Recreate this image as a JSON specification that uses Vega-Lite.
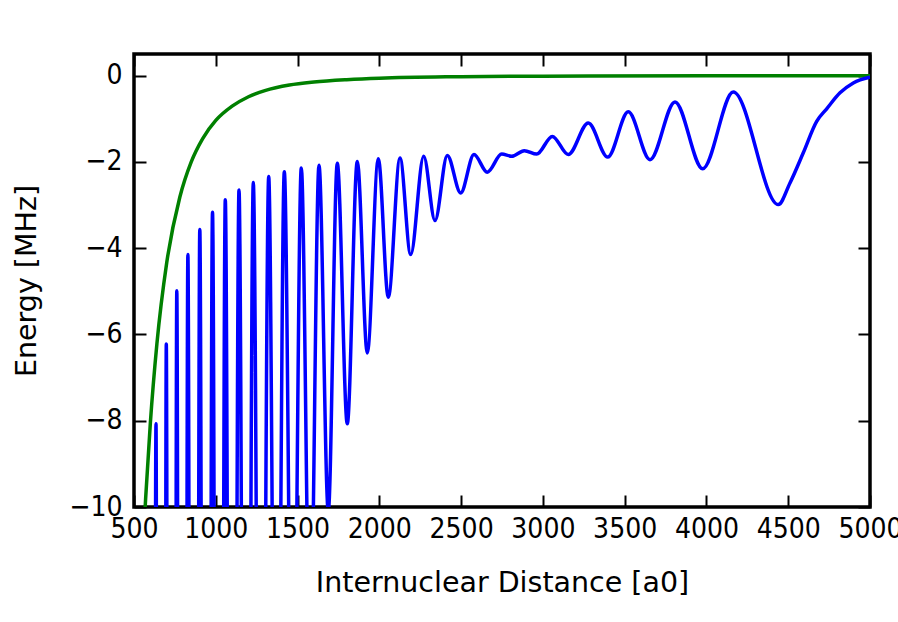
{
  "$schema": "https://vega.github.io/schema/vega-lite/v6.json",
  "width": 736,
  "height": 453,
  "autosize": "none",
  "padding": {"left": 134, "top": 54, "right": 28, "bottom": 115},
  "background": "white",
  "datasets": {
    "blue": [
      {"r": 604, "E": -200}, {"r": 634.5, "E": -8.07}, {"r": 666.3, "E": -160}, {"r": 697.5, "E": -6.22},
      {"r": 729.3, "E": -125}, {"r": 761.7, "E": -4.99}, {"r": 795.3, "E": -98}, {"r": 829.5, "E": -4.15},
      {"r": 865.9, "E": -78}, {"r": 902.3, "E": -3.57}, {"r": 941.1, "E": -62}, {"r": 980, "E": -3.17},
      {"r": 1019.1, "E": -50}, {"r": 1058.2, "E": -2.88}, {"r": 1100.1, "E": -40}, {"r": 1142, "E": -2.65},
      {"r": 1185.7, "E": -32}, {"r": 1229.4, "E": -2.48}, {"r": 1276.5, "E": -26}, {"r": 1323.6, "E": -2.34},
      {"r": 1371.3, "E": -21}, {"r": 1419, "E": -2.23}, {"r": 1470.9, "E": -17}, {"r": 1522.9, "E": -2.14},
      {"r": 1577, "E": -13.5}, {"r": 1631.1, "E": -2.08}, {"r": 1687.9, "E": -10.1}, {"r": 1743, "E": -2.03},
      {"r": 1804.1, "E": -8.07}, {"r": 1865.3, "E": -1.99}, {"r": 1926.4, "E": -6.43}, {"r": 1993.7, "E": -1.93},
      {"r": 2054.8, "E": -5.14}, {"r": 2126.3, "E": -1.91}, {"r": 2191.7, "E": -4.15}, {"r": 2271.2, "E": -1.87},
      {"r": 2340.3, "E": -3.36}, {"r": 2415.5, "E": -1.85}, {"r": 2497.4, "E": -2.72}, {"r": 2578.8, "E": -1.83},
      {"r": 2660.1, "E": -2.24}, {"r": 2748.1, "E": -1.82}, {"r": 2809.3, "E": -1.87}, {"r": 2886.3, "E": -1.74},
      {"r": 2962.1, "E": -1.82}, {"r": 3057.5, "E": -1.41}, {"r": 3155.3, "E": -1.83}, {"r": 3277.6, "E": -1.1},
      {"r": 3396.2, "E": -1.89}, {"r": 3522.2, "E": -0.84}, {"r": 3654.8, "E": -1.95}, {"r": 3807.7, "E": -0.61},
      {"r": 3977, "E": -2.16}, {"r": 4164.1, "E": -0.38}, {"r": 4439.2, "E": -2.99}, {"r": 4510.8, "E": -2.49},
      {"r": 4592.1, "E": -1.79}, {"r": 4674, "E": -1.06}, {"r": 4735.2, "E": -0.77}, {"r": 4816.5, "E": -0.4},
      {"r": 4897.8, "E": -0.17}, {"r": 5000, "E": -0.04}
    ],
    "green": [
      {"r": 560, "E": -10.6}, {"r": 571, "E": -9.81}, {"r": 600, "E": -8.05}, {"r": 640, "E": -6.22},
      {"r": 700, "E": -4.34}, {"r": 780, "E": -2.82}, {"r": 850, "E": -2.0}, {"r": 920, "E": -1.46},
      {"r": 1000, "E": -1.04}, {"r": 1100, "E": -0.71}, {"r": 1200, "E": -0.49}, {"r": 1300, "E": -0.35},
      {"r": 1450, "E": -0.22}, {"r": 1600, "E": -0.15}, {"r": 1800, "E": -0.095}, {"r": 2000, "E": -0.06},
      {"r": 2500, "E": -0.026}, {"r": 3000, "E": -0.013}, {"r": 4000, "E": -0.004}, {"r": 5000, "E": -0.002}
    ]
  },
  "layer": [
    {
      "data": {"name": "green"},
      "mark": {"type": "line", "color": "#008000", "strokeWidth": 3.5, "interpolate": "monotone", "clip": true},
      "encoding": {
        "x": {"field": "r", "type": "quantitative", "scale": {"domain": [500, 5000], "nice": false, "zero": false},
          "axis": {"orient": "top", "labels": false, "title": null, "values": [500, 1000, 1500, 2000, 2500, 3000, 3500, 4000, 4500, 5000]}},
        "y": {"field": "E", "type": "quantitative", "scale": {"domain": [-10, 0.5], "nice": false, "zero": false},
          "axis": {"orient": "right", "labels": false, "title": null, "values": [-10, -8, -6, -4, -2, 0]}}
      }
    },
    {
      "data": {"name": "blue"},
      "mark": {"type": "line", "color": "#0000ff", "strokeWidth": 3.5, "interpolate": "monotone", "clip": true},
      "encoding": {
        "x": {"field": "r", "type": "quantitative", "scale": {"domain": [500, 5000], "nice": false, "zero": false},
          "axis": {"orient": "bottom", "title": "Internuclear Distance [a0]", "format": "d", "labelFlush": false, "labelOverlap": false,
            "values": [500, 1000, 1500, 2000, 2500, 3000, 3500, 4000, 4500, 5000], "labelPadding": 20, "titleY": 75, "titleBaseline": "middle"}},
        "y": {"field": "E", "type": "quantitative", "scale": {"domain": [-10, 0.5], "nice": false, "zero": false},
          "axis": {"orient": "left", "title": "Energy [MHz]", "format": "d", "labelFlush": false, "labelOverlap": false,
            "values": [-10, -8, -6, -4, -2, 0], "labelPadding": 24, "titleX": -108, "titleBaseline": "middle"}}
      }
    }
  ],
  "resolve": {"axis": {"x": "independent", "y": "independent"}},
  "config": {
    "view": {"stroke": "black", "strokeWidth": 3.5},
    "axis": {
      "domain": false, "grid": false, "ticks": true,
      "tickColor": "black", "tickWidth": 2, "tickSize": -12,
      "labelFont": "DejaVu Sans Condensed, DejaVu Sans", "labelFontSize": 28, "labelColor": "black",
      "titleFont": "DejaVu Sans", "titleFontSize": 28.5, "titleFontWeight": "normal", "titleColor": "black"
    }
  }
}
